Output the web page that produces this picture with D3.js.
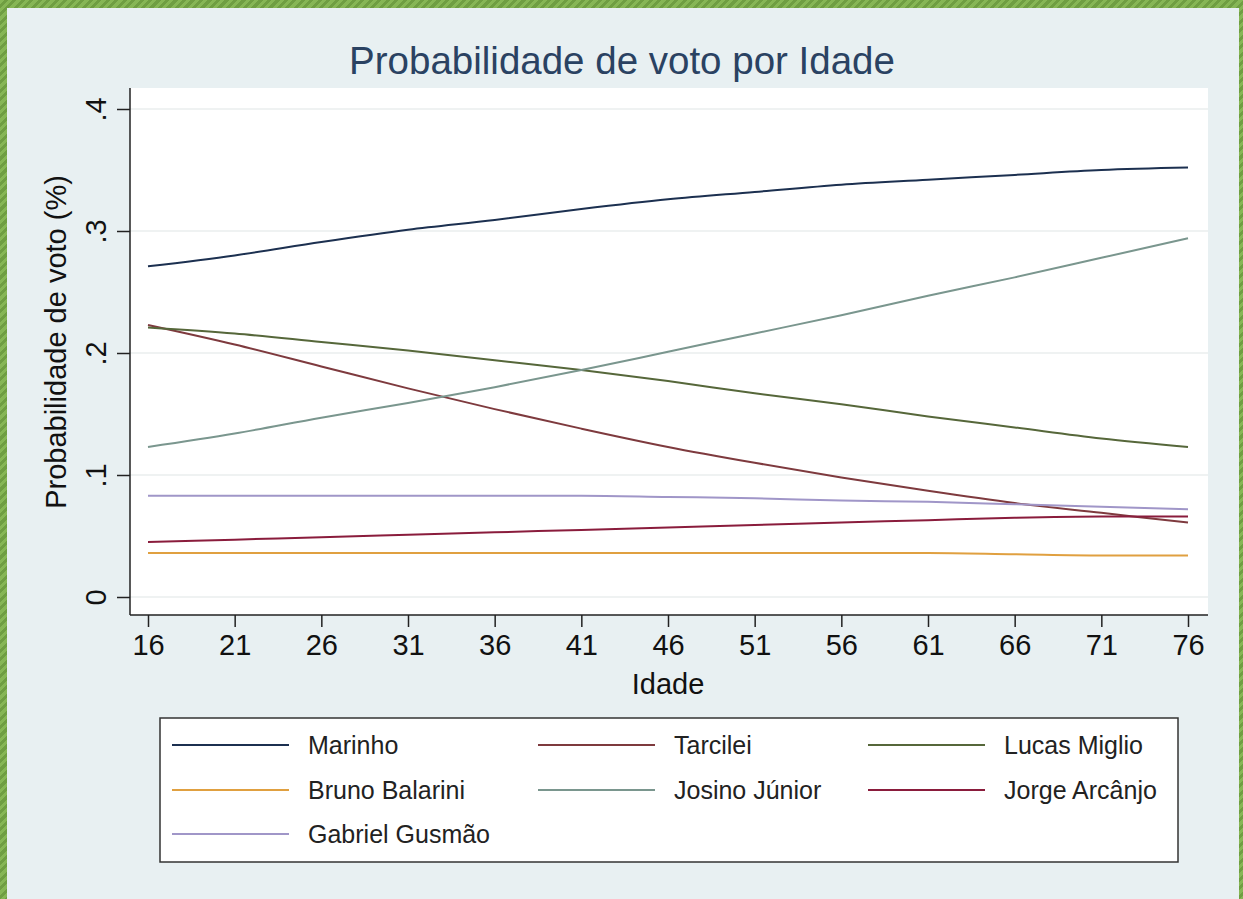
<!DOCTYPE html>
<html>
<head>
<meta charset="utf-8">
<script src="https://cdn.jsdelivr.net/npm/d3@7"></script>
<style>
  body { margin: 0; width: 1243px; height: 899px; overflow: hidden;
         background: repeating-linear-gradient(135deg, #86b655 0 3px, #6f9e42 3px 6px); }
  #chart { position: absolute; left: 7px; top: 8px; }
</style>
</head>
<body>
<div id="chart"></div>
<script>
// Data
var ages = [16, 21, 26, 31, 36, 41, 46, 51, 56, 61, 66, 71, 76];
var yTicks = [0, 0.1, 0.2, 0.3, 0.4];
var yTickLabels = ["0", ".1", ".2", ".3", ".4"];

var marinho  = [0.271, 0.280, 0.291, 0.301, 0.309, 0.318, 0.326, 0.332, 0.338, 0.342, 0.346, 0.350, 0.352];
var tarcilei = [0.223, 0.207, 0.189, 0.171, 0.154, 0.138, 0.123, 0.110, 0.098, 0.087, 0.077, 0.069, 0.061];
var lucas    = [0.221, 0.216, 0.209, 0.202, 0.194, 0.186, 0.177, 0.167, 0.158, 0.148, 0.139, 0.130, 0.123];
var bruno    = [0.036, 0.036, 0.036, 0.036, 0.036, 0.036, 0.036, 0.036, 0.036, 0.036, 0.035, 0.034, 0.034];
var josino   = [0.123, 0.134, 0.147, 0.159, 0.172, 0.186, 0.201, 0.216, 0.231, 0.247, 0.262, 0.278, 0.294];
var jorge    = [0.045, 0.047, 0.049, 0.051, 0.053, 0.055, 0.057, 0.059, 0.061, 0.063, 0.065, 0.066, 0.066];
var gabriel  = [0.083, 0.083, 0.083, 0.083, 0.083, 0.083, 0.082, 0.081, 0.079, 0.078, 0.076, 0.074, 0.072];

var names  = ["Marinho", "Tarcilei", "Lucas Miglio", "Bruno Balarini", "Josino Júnior", "Jorge Arcânjo", "Gabriel Gusmão"];
var colors = ["#1c3050", "#7e3a3e", "#56673a", "#e0a040", "#7a968e", "#8a1c3c", "#a096c8"];
var seriesValues = [marinho, tarcilei, lucas, bruno, josino, jorge, gabriel];

// SVG area (inside the green frame)
var svgWidth = 1232;
var svgHeight = 891;
var svg = d3.select("#chart")
  .append("svg")
  .attr("width", svgWidth)
  .attr("height", svgHeight)
  .style("background", "#e8f0f2")
  .style("font-family", "'Liberation Sans', Arial, sans-serif");

// plot region in page coords, shifted by frame offset
var ox = 7, oy = 8;
var plotLeft = 130 - ox, plotRight = 1208 - ox, plotTop = 88 - oy, plotBottom = 615 - oy;

var x = d3.scaleLinear().domain([16, 76]).range([148 - ox, 1188 - ox]);
var y = d3.scaleLinear().domain([0, 0.4]).range([597 - oy, 109 - oy]);

// plot background
svg.append("rect")
  .attr("x", plotLeft).attr("y", plotTop)
  .attr("width", plotRight - plotLeft).attr("height", plotBottom - plotTop)
  .attr("fill", "#ffffff");

// gridlines
svg.append("g").selectAll("line")
  .data(yTicks)
  .enter().append("line")
  .attr("x1", plotLeft).attr("x2", plotRight)
  .attr("y1", d => y(d)).attr("y2", d => y(d))
  .attr("stroke", "#eaeeee").attr("stroke-width", 1.5);

// title
svg.append("text")
  .attr("x", 622 - ox).attr("y", 74 - oy)
  .attr("text-anchor", "middle")
  .style("font-size", "38.5px")
  .style("fill", "#2a4262")
  .text("Probabilidade de voto por Idade");

// lines
var line = d3.line()
  .x((d, i) => x(ages[i]))
  .y(d => y(d))
  .curve(d3.curveMonotoneX);

svg.append("g").selectAll("path")
  .data(seriesValues)
  .enter().append("path")
  .attr("d", d => line(d))
  .attr("fill", "none")
  .attr("stroke", (d, i) => colors[i])
  .attr("stroke-width", 2);

// y axis
var leftAxis = d3.axisLeft(y).tickValues(yTicks).tickSize(13).tickFormat((d, i) => yTickLabels[i]);
var gy = svg.append("g")
  .attr("transform", `translate(${plotLeft}, 0)`)
  .call(leftAxis);
gy.select(".domain").attr("d", `M0,${plotTop}V${plotBottom}`).attr("stroke", "#222").attr("stroke-width", 1.5);
gy.selectAll(".tick line").attr("stroke", "#222").attr("stroke-width", 1.5);
gy.selectAll(".tick text")
  .attr("x", null).attr("dy", null)
  .attr("transform", "translate(-24,0) rotate(-90)")
  .attr("text-anchor", "middle")
  .style("font-size", "29px")
  .style("fill", "#111")
  .style("font-family", "'Liberation Sans', Arial, sans-serif");

// x axis
var bottomAxis = d3.axisBottom(x).tickValues(ages).tickSize(12).tickFormat(d3.format("d"));
var gx = svg.append("g")
  .attr("transform", `translate(0, ${plotBottom})`)
  .call(bottomAxis);
gx.select(".domain").attr("d", `M${plotLeft},0H${plotRight}`).attr("stroke", "#222").attr("stroke-width", 1.5);
gx.selectAll(".tick line").attr("stroke", "#222").attr("stroke-width", 1.5);
gx.selectAll(".tick text")
  .attr("y", 19).attr("dy", "0.71em")
  .style("font-size", "29px")
  .style("fill", "#111")
  .style("font-family", "'Liberation Sans', Arial, sans-serif");

// axis titles
svg.append("text")
  .attr("transform", `translate(${66 - ox}, ${342 - oy}) rotate(-90)`)
  .attr("text-anchor", "middle")
  .style("font-size", "29px")
  .style("fill", "#111")
  .text("Probabilidade de voto (%)");

svg.append("text")
  .attr("x", 668 - ox).attr("y", 694 - oy)
  .attr("text-anchor", "middle")
  .style("font-size", "29px")
  .style("fill", "#111")
  .text("Idade");

// legend
var legend = svg.append("g").attr("transform", `translate(${160 - ox}, ${718 - oy})`);
legend.append("rect")
  .attr("width", 1018).attr("height", 144)
  .attr("fill", "#ffffff").attr("stroke", "#333").attr("stroke-width", 1.5);

var colX = [12, 378, 708];
var rowY = [27, 72, 116];
var items = legend.selectAll("g.item")
  .data(names)
  .enter().append("g")
  .attr("class", "item")
  .attr("transform", (d, i) => `translate(${colX[i % 3]}, ${rowY[Math.floor(i / 3)]})`);

items.append("line")
  .attr("x1", 0).attr("x2", 117)
  .attr("stroke", (d, i) => colors[i])
  .attr("stroke-width", 2);

items.append("text")
  .attr("x", 136).attr("dy", "0.35em")
  .style("font-size", "25px")
  .style("fill", "#222")
  .text(d => d);
</script>
</body>
</html>
